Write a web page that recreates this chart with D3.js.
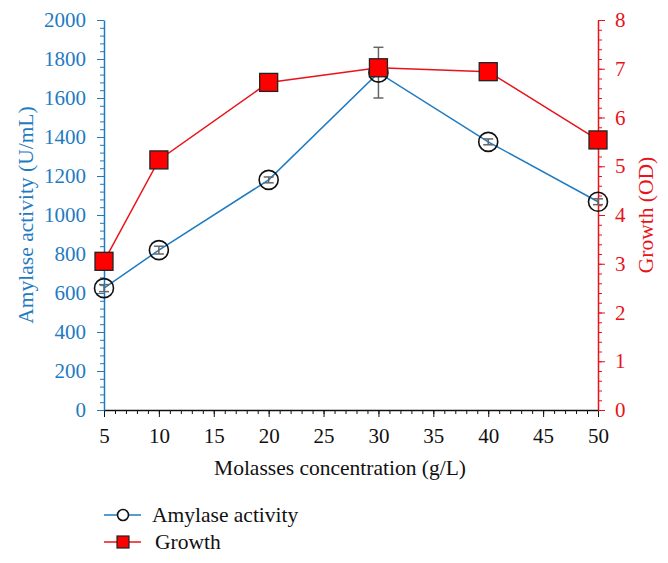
<!DOCTYPE html>
<html><head><meta charset="utf-8">
<script src="https://cdn.jsdelivr.net/npm/d3@7"></script>
<style>body{margin:0;background:#fff}svg{display:block}text{font-family:"Liberation Serif","DejaVu Serif",serif}</style>
</head><body><svg id="c" width="668" height="563"></svg>
<script>
const concentrations = [5, 10, 20, 30, 40, 50];
const amylase = [625, 820, 1180, 1730, 1375, 1068];
const amylaseErr = [18, 20, 15, 130, 15, 15];
const growth = [3.05, 5.13, 6.72, 7.02, 6.94, 5.54];
const xTicks = [5, 10, 15, 20, 25, 30, 35, 40, 45, 50];
const yLeftTicks = [0, 200, 400, 600, 800, 1000, 1200, 1400, 1600, 1800, 2000];
const yRightTicks = [0, 1, 2, 3, 4, 5, 6, 7, 8];

const blue = "#1f7bc1", red = "#e8131b";
const FS = 21;
const svg = d3.select("#c");
const L = 104, R = 598, T = 20, B = 410;
const x = d3.scaleLinear().domain([5, 50]).range([L, R]);
const yl = d3.scaleLinear().domain([0, 2000]).range([B, T]);
const yr = d3.scaleLinear().domain([0, 8]).range([B, T]);

// x axis
const gx = svg.append("g").attr("transform", `translate(0,${B})`);
gx.call(d3.axisBottom(x).tickValues(d3.range(5, 51, 1)).tickSize(4).tickFormat(""));
gx.selectAll(".tick line").attr("stroke", "#111");
gx.select(".domain").remove();
const gx2 = svg.append("g").attr("transform", `translate(0,${B})`);
gx2.call(d3.axisBottom(x).tickValues(xTicks).tickSize(7).tickSizeOuter(0).tickPadding(11));
gx2.selectAll("text").attr("font-size", FS).attr("fill", "#111");
gx2.selectAll("line,path").attr("stroke", "#111");
gx2.select(".domain").attr("stroke-width", 1.5);

// left axis
const gl = svg.append("g").attr("transform", `translate(${L},0)`);
gl.call(d3.axisLeft(yl).tickValues(d3.range(0, 2001, 40)).tickSize(4).tickFormat(""));
gl.select(".domain").remove();
gl.selectAll("line").attr("stroke", blue);
const gl2 = svg.append("g").attr("transform", `translate(${L},0)`);
gl2.call(d3.axisLeft(yl).tickValues(yLeftTicks).tickSize(7).tickSizeOuter(0).tickPadding(11).tickFormat(d3.format("d")));
gl2.selectAll("line,path").attr("stroke", blue);
gl2.select(".domain").attr("stroke-width", 1.5);
gl2.selectAll("text").attr("font-size", FS).attr("fill", blue);

// right axis
const gr = svg.append("g").attr("transform", `translate(${R},0)`);
gr.call(d3.axisRight(yr).tickValues(d3.range(0, 8.001, 0.2)).tickSize(4).tickFormat(""));
gr.select(".domain").remove();
gr.selectAll("line").attr("stroke", red);
const gr2 = svg.append("g").attr("transform", `translate(${R},0)`);
gr2.call(d3.axisRight(yr).tickValues(yRightTicks).tickSize(7).tickSizeOuter(0).tickPadding(10));
gr2.selectAll("line,path").attr("stroke", red);
gr2.select(".domain").attr("stroke-width", 1.5);
gr2.selectAll("text").attr("font-size", FS).attr("fill", red);

// titles
svg.append("text").attr("x", 340).attr("y", 475).attr("text-anchor", "middle").attr("font-size", 21.5).attr("fill", "#111").text("Molasses concentration (g/L)");
svg.append("text").attr("transform", `translate(33,${(T + B) / 2}) rotate(-90)`).attr("text-anchor", "middle").attr("font-size", 21.5).attr("fill", blue).text("Amylase activity (U/mL)");
svg.append("text").attr("transform", `translate(653,${(T + B) / 2}) rotate(-90)`).attr("text-anchor", "middle").attr("font-size", 21.5).attr("fill", red).text("Growth (OD)");

const ad = concentrations.map((c, i) => ({c, v: amylase[i], e: amylaseErr[i]}));
const gd = concentrations.map((c, i) => ({c, v: growth[i]}));

// amylase line
svg.append("path").datum(ad).attr("fill", "none").attr("stroke", blue).attr("stroke-width", 1.5)
  .attr("d", d3.line().x(d => x(d.c)).y(d => yl(d.v)));
// error bars
const eb = svg.append("g").attr("stroke", "#666").attr("stroke-width", 1.5);
ad.forEach(d => {
  eb.append("line").attr("x1", x(d.c)).attr("x2", x(d.c)).attr("y1", yl(d.v - d.e)).attr("y2", yl(d.v + d.e));
  eb.append("line").attr("x1", x(d.c) - 5).attr("x2", x(d.c) + 5).attr("y1", yl(d.v - d.e)).attr("y2", yl(d.v - d.e));
  eb.append("line").attr("x1", x(d.c) - 5).attr("x2", x(d.c) + 5).attr("y1", yl(d.v + d.e)).attr("y2", yl(d.v + d.e));
});
svg.append("g").selectAll("circle").data(ad).join("circle")
  .attr("cx", d => x(d.c)).attr("cy", d => yl(d.v)).attr("r", 9.5)
  .attr("fill", "none").attr("stroke", "#111").attr("stroke-width", 1.6);

// growth line
svg.append("path").datum(gd).attr("fill", "none").attr("stroke", red).attr("stroke-width", 1.5)
  .attr("d", d3.line().x(d => x(d.c)).y(d => yr(d.v)));
svg.append("g").selectAll("rect").data(gd).join("rect")
  .attr("x", d => x(d.c) - 9).attr("y", d => yr(d.v) - 9).attr("width", 18).attr("height", 18)
  .attr("fill", "#ff0000").attr("stroke", "#222").attr("stroke-width", 1.3);

// legend
const lg = svg.append("g");
lg.append("line").attr("x1", 104).attr("x2", 141).attr("y1", 515).attr("y2", 515).attr("stroke", blue).attr("stroke-width", 1.5);
lg.append("circle").attr("cx", 123).attr("cy", 515).attr("r", 5.5).attr("fill", "#fff").attr("stroke", "#111").attr("stroke-width", 1.6);
lg.append("text").attr("x", 152).attr("y", 522).attr("font-size", 21.5).attr("fill", "#111").text("Amylase activity");
lg.append("line").attr("x1", 104).attr("x2", 141).attr("y1", 542).attr("y2", 542).attr("stroke", red).attr("stroke-width", 1.5);
lg.append("rect").attr("x", 117).attr("y", 536).attr("width", 12).attr("height", 12).attr("fill", "#ff0000").attr("stroke", "#222").attr("stroke-width", 1.2);
lg.append("text").attr("x", 155).attr("y", 549).attr("font-size", 21.5).attr("fill", "#111").text("Growth");
</script></body></html>
